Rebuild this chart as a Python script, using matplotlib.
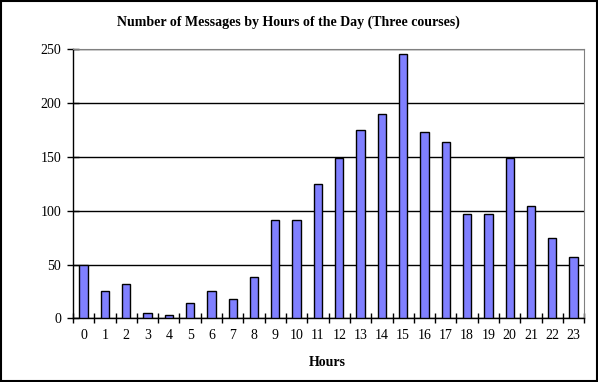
import numpy as np
import matplotlib
matplotlib.use("Agg")
import matplotlib.pyplot as plt
from matplotlib.patches import Rectangle

hours = [str(h) for h in range(24)]
messages = [50, 25, 32, 5, 3, 14, 25, 18, 38, 91, 91, 125,
            149, 175, 190, 246, 173, 164, 97, 97, 149, 104, 75, 57]
y_ticks = [0, 50, 100, 150, 200, 250]

plt.rcParams['font.family'] = ['Liberation Serif', 'DejaVu Serif']

fig = plt.figure(figsize=(5.98, 3.82), dpi=100)
ax = fig.add_axes([0.122, 0.1667, 0.855, 0.7043])

x = np.arange(len(hours))
ax.bar(x, messages, width=0.39, color='#8080ff', edgecolor='black', linewidth=1, zorder=3)

ax.set_xlim(-0.5, len(hours) - 0.5)
ax.set_ylim(0, 250)
ax.set_yticks(y_ticks)
ax.set_xticks(x)
ax.set_xticklabels(hours)
ax.set_xticks(np.arange(len(hours) + 1) - 0.5, minor=True)
ax.tick_params(axis='x', which='major', length=0, pad=8, labelsize=10)
ax.tick_params(axis='x', which='minor', direction='inout', length=7, width=1)
ax.tick_params(axis='y', direction='inout', length=9, width=1, pad=4, labelsize=10)

ax.yaxis.grid(True, color='black', linewidth=1, zorder=0)
ax.set_axisbelow(True)
for s in ['top', 'right']:
    ax.spines[s].set_color('#808080')
for s in ['left', 'bottom']:
    ax.spines[s].set_color('black')
    ax.spines[s].set_linewidth(1)

fig.text(0.482, 0.942, 'Number of Messages by Hours of the Day (Three courses)',
         ha='center', va='center', fontsize=10, fontweight='bold')
fig.text(0.548, 0.052, 'Hours', ha='center', va='center', fontsize=10, fontweight='bold')

fig.patches.append(Rectangle((0.0015, 0.002), 0.997, 0.995, transform=fig.transFigure,
                             fill=False, edgecolor='black', linewidth=1.5))

fig.savefig('out.png', dpi=100)
